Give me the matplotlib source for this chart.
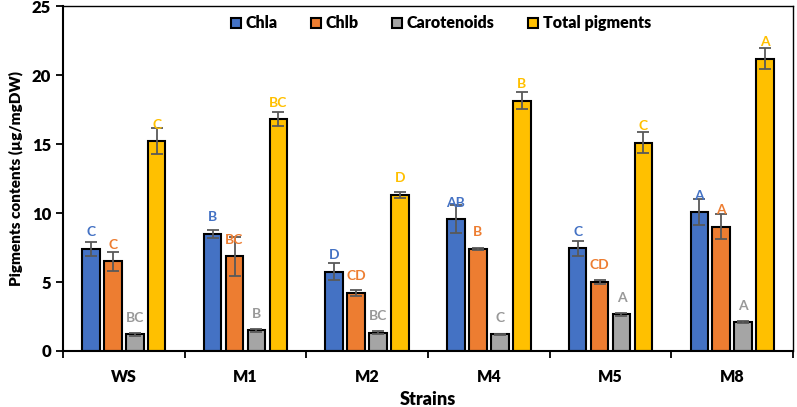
import matplotlib.pyplot as plt
import numpy as np

# pigment contents per strain (µg/mgDW)
strains = ['WS', 'M1', 'M2', 'M4', 'M5', 'M8']
series = ['Chla', 'Chlb', 'Carotenoids', 'Total pigments']

chla = [7.4, 8.5, 5.75, 9.55, 7.45, 10.05]
chlb = [6.5, 6.85, 4.2, 7.4, 5.0, 9.0]
carot = [1.2, 1.5, 1.32, 1.2, 2.65, 2.08]
total = [15.2, 16.8, 11.3, 18.15, 15.1, 21.2]

chla_err = [0.5, 0.3, 0.6, 1.0, 0.55, 0.95]
chlb_err = [0.7, 1.4, 0.2, 0.1, 0.15, 0.9]
carot_err = [0.08, 0.1, 0.1, 0.02, 0.1, 0.06]
total_err = [0.95, 0.5, 0.2, 0.6, 0.75, 0.75]

chla_lbl = ['C', 'B', 'D', 'AB', 'C', 'A']
chlb_lbl = ['C', 'BC', 'CD', 'B', 'CD', 'A']
carot_lbl = ['BC', 'B', 'BC', 'C', 'A', 'A']
total_lbl = ['C', 'BC', 'D', 'B', 'C', 'A']

colors = ['#4472C4', '#ED7D31', '#A5A5A5', '#FFC000']
text_colors = ['#4472C4', '#ED7D31', '#999999', '#FFC000']

plt.rcParams['font.family'] = ['Lato', 'DejaVu Sans']
plt.rcParams['font.weight'] = 'heavy'

fig = plt.figure(figsize=(7.97, 4.07), dpi=100)
ax = fig.add_axes([0.079, 0.1376, 0.916, 0.8474])

x = np.arange(len(strains))
width = 0.145
step = 0.18
values = [chla, chlb, carot, total]
errors = [chla_err, chlb_err, carot_err, total_err]
labels = [chla_lbl, chlb_lbl, carot_lbl, total_lbl]

for i, name in enumerate(series):
    pos = x + (i - 1.5) * step
    ax.bar(pos, values[i], width, color=colors[i], edgecolor='black',
           linewidth=1.5, label=name, zorder=2)
    ax.errorbar(pos, values[i], yerr=errors[i], fmt='none', ecolor='#595959',
                elinewidth=1.3, capsize=4, capthick=1.3, zorder=3)
    for xp, v, t in zip(pos, values[i], labels[i]):
        ax.annotate(t, (xp, v), xytext=(0, 12), textcoords='offset points',
                    ha='center', va='center', fontsize=10, fontweight='bold',
                    color=text_colors[i], zorder=4)

ax.set_xlim(-0.5, 5.5)
ax.set_ylim(0, 25)
ax.set_yticks([0, 5, 10, 15, 20, 25])
ax.set_xticks(x)
ax.set_xticklabels(strains)
ax.set_xticks(np.arange(-0.5, 6, 1), minor=True)
ax.tick_params(axis='x', which='major', length=0, labelsize=11.5, pad=13)
ax.tick_params(axis='x', which='minor', length=5, width=1.3, direction='out')
ax.tick_params(axis='y', length=5, width=1.3, labelsize=12)
for sp in ['left', 'bottom']:
    ax.spines[sp].set_linewidth(1.5)
for sp in ['top', 'right']:
    ax.spines[sp].set_linewidth(1.0)

ax.set_xlabel('Strains', fontsize=13, fontweight='heavy', labelpad=4)
ax.set_ylabel('Pigments contents (µg/mgDW)', fontsize=11, fontweight='heavy',
              labelpad=6)

ax.legend(loc='upper center', ncol=4, frameon=False,
          handlelength=0.6, handleheight=0.6, handletextpad=0.3,
          columnspacing=2.1, bbox_to_anchor=(0.518, 1.015),
          prop={'weight': 'heavy', 'size': 11.5})

fig.savefig('out.png', dpi=100)
